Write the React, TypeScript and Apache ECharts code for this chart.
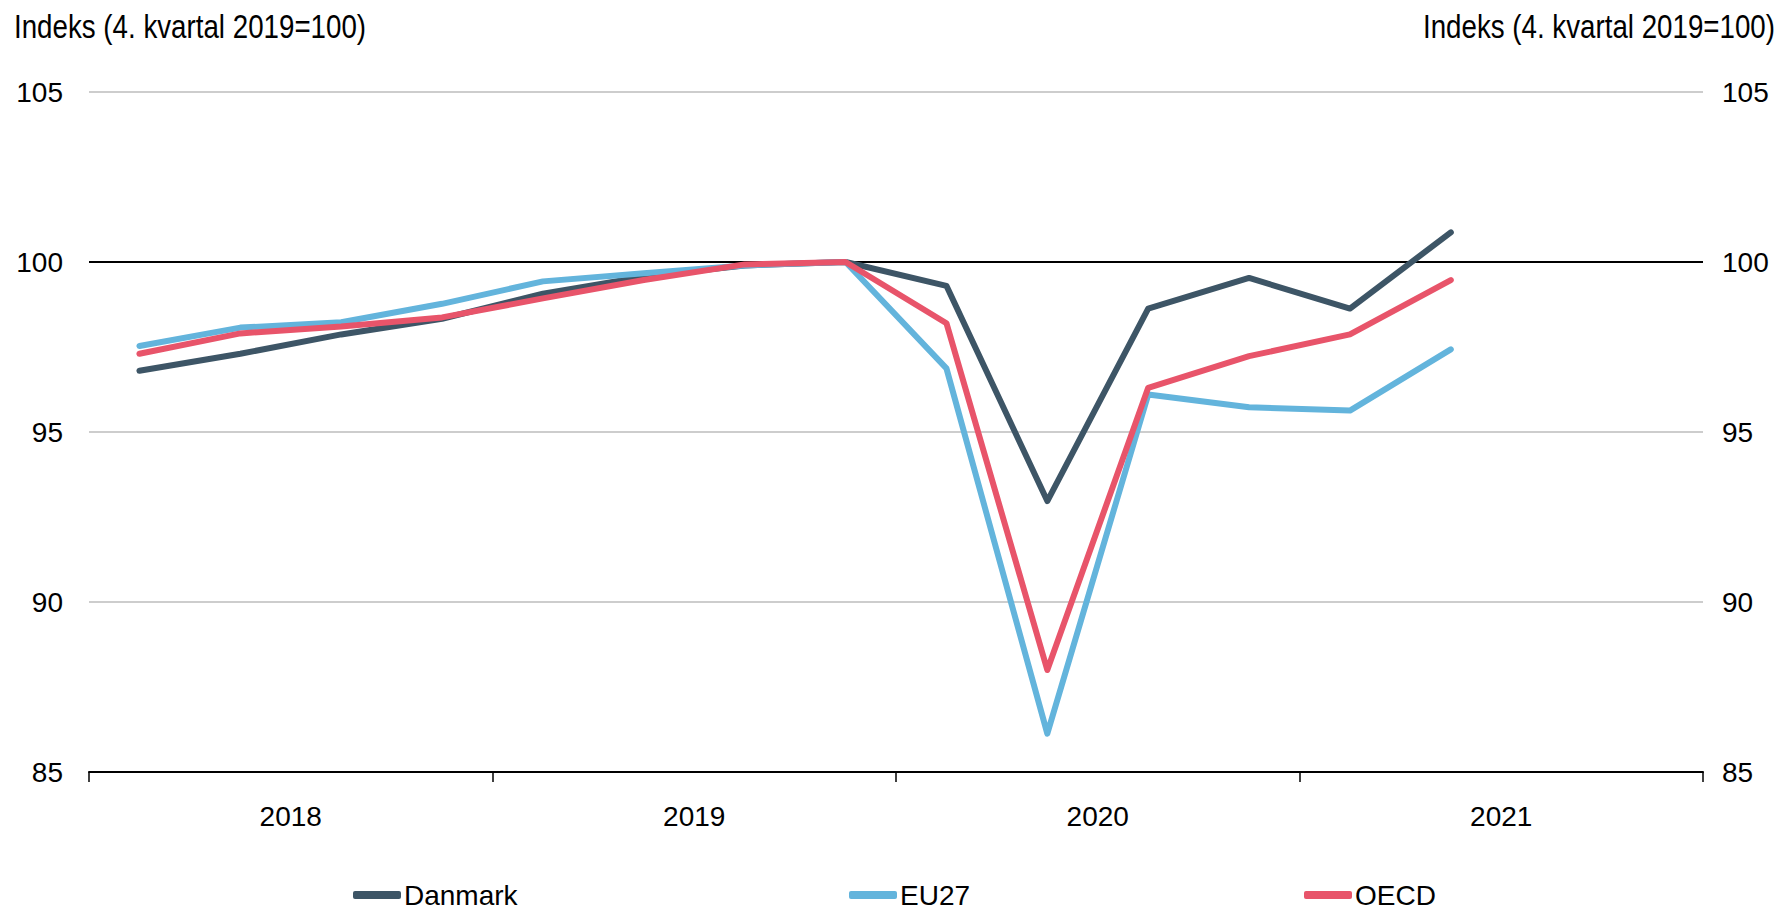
import React, { useEffect, useRef } from "react";
import * as echarts from "echarts";

const years = ["2018", "2019", "2020", "2021"];
const quarters = [
  "2018K1", "2018K2", "2018K3", "2018K4",
  "2019K1", "2019K2", "2019K3", "2019K4",
  "2020K1", "2020K2", "2020K3", "2020K4",
  "2021K1", "2021K2", "2021K3", "2021K4",
];
const danmark = [96.8, 97.3, 97.87, 98.33, 99.07, 99.57, 99.9, 100, 99.3, 92.97, 98.63, 99.53, 98.63, 100.87];
const eu27 = [97.53, 98.07, 98.23, 98.77, 99.43, 99.67, 99.9, 100, 96.87, 86.13, 96.1, 95.73, 95.63, 97.43];
const oecd = [97.3, 97.9, 98.1, 98.37, 98.93, 99.47, 99.93, 100, 98.2, 88.0, 96.3, 97.23, 97.87, 99.47];
const yTicks = { min: 85, max: 105, interval: 5 };
const axisTitle = "Indeks (4. kvartal 2019=100)";
const seriesNames = ["Danmark", "EU27", "OECD"];
const seriesColors = ["#3d5566", "#63b4dc", "#e8546a"];
const legendLefts = [353, 849, 1304];

const FONT = "'Liberation Sans', Arial, sans-serif";
const FS = 28;

export default function App() {
  const ref = useRef<HTMLDivElement>(null);
  useEffect(() => {
    const chart = echarts.init(ref.current!, null, { renderer: "svg" });
    const datasets = [danmark, eu27, oecd];
    const series = seriesNames.map((name, i) => ({
      name,
      type: "line",
      xAxisIndex: 1,
      yAxisIndex: 0,
      data: datasets[i],
      symbol: "none",
      showSymbol: false,
      lineStyle: { color: seriesColors[i], width: 6, cap: "round", join: "round" },
      itemStyle: { color: seriesColors[i] },
      z: 3,
      markLine:
        i === 0
          ? {
              silent: true,
              symbol: "none",
              label: { show: false },
              lineStyle: { color: "#000", width: 2, type: "solid" },
              data: [{ yAxis: 100 }],
              z: 2,
            }
          : undefined,
    }));
    chart.setOption({
      animation: false,
      backgroundColor: "#fff",
      textStyle: { fontFamily: FONT },
      grid: { left: 89, right: 83, top: 92, bottom: 140 },
      graphic: [
        {
          type: "text",
          x: 14,
          y: 26,
          scaleX: 0.84,
          style: { text: axisTitle, fontFamily: FONT, fontSize: 33, fill: "#000", align: "left", verticalAlign: "middle" },
        },
        {
          type: "text",
          x: 1775,
          y: 26,
          scaleX: 0.84,
          style: { text: axisTitle, fontFamily: FONT, fontSize: 33, fill: "#000", align: "right", verticalAlign: "middle" },
        },
      ],
      legend: seriesNames.map((name, i) => ({
        left: legendLefts[i],
        top: 896 - FS / 2 - 1,
        itemWidth: 48,
        itemHeight: 8,
        itemGap: 0,
        padding: 0,
        icon: "roundRect",
        textStyle: { fontFamily: FONT, fontSize: FS, color: "#000", padding: [0, 0, 0, -2] },
        data: [name],
      })),
      xAxis: [
        {
          type: "category",
          data: years,
          boundaryGap: true,
          axisLine: { lineStyle: { color: "#000", width: 2 } },
          axisTick: { show: true, length: 10, lineStyle: { color: "#000", width: 1.5 } },
          axisLabel: { fontFamily: FONT, fontSize: FS, color: "#000", margin: 30 },
          splitLine: { show: false },
        },
        {
          type: "category",
          data: quarters,
          boundaryGap: true,
          show: false,
        },
      ],
      yAxis: [
        {
          type: "value",
          ...yTicks,
          position: "left",
          axisLine: { show: false },
          axisTick: { show: false },
          axisLabel: { fontFamily: FONT, fontSize: FS, color: "#000", margin: 26 },
          splitLine: { show: true, lineStyle: { color: "#bdbdbd", width: 1.5 } },
        },
        {
          type: "value",
          ...yTicks,
          position: "right",
          axisLine: { show: false },
          axisTick: { show: false },
          axisLabel: { fontFamily: FONT, fontSize: FS, color: "#000", margin: 19 },
          splitLine: { show: false },
        },
      ],
      series,
    });
    return () => chart.dispose();
  }, []);
  return <div ref={ref} style={{ width: 1786, height: 912, position: "absolute", left: 0, top: 0 }} />;
}
